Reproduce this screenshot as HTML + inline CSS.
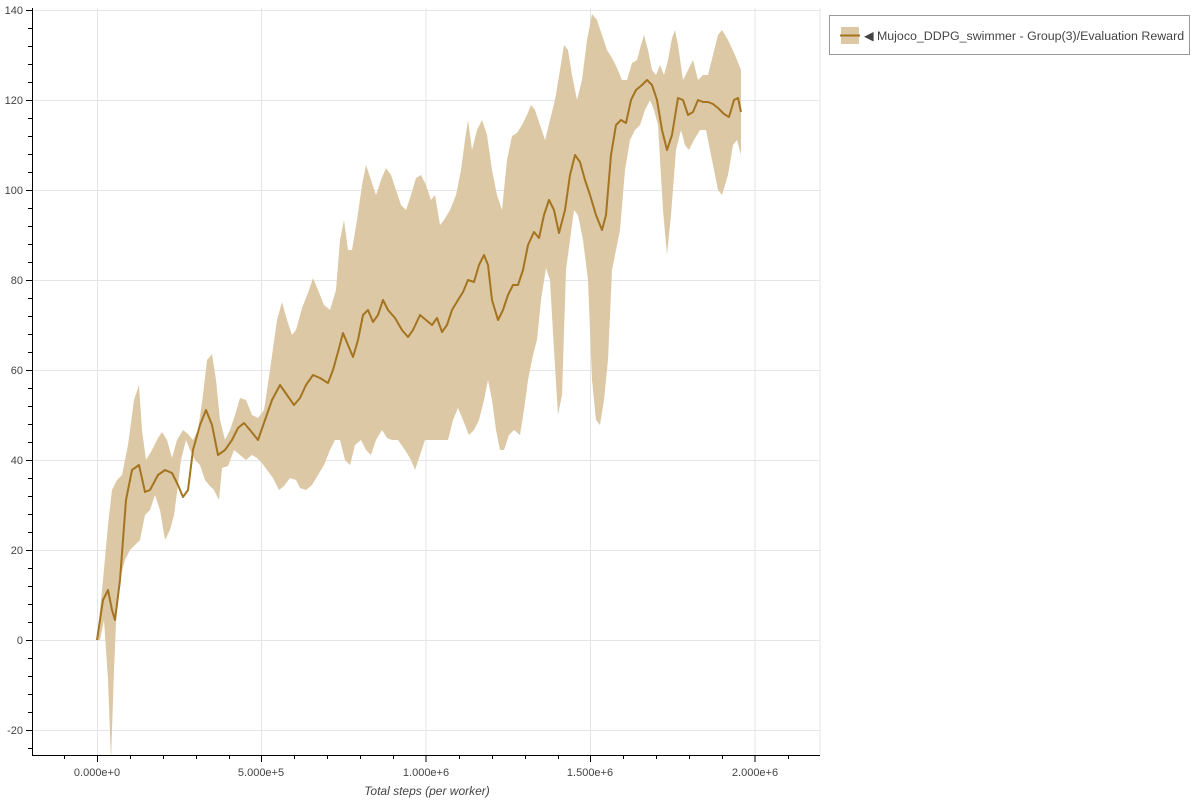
<!DOCTYPE html>
<html><head><meta charset="utf-8"><style>
body{margin:0;background:#fff;font-family:"Liberation Sans",sans-serif;}
</style></head><body>
<svg width="1200" height="800" xmlns="http://www.w3.org/2000/svg" font-family="Liberation Sans, sans-serif">
<defs><clipPath id="c"><rect x="33" y="8" width="787" height="747"/></clipPath></defs>
<g stroke="#e5e5e5" stroke-width="1">
<line x1="97.5" y1="8" x2="97.5" y2="755"/><line x1="261.5" y1="8" x2="261.5" y2="755"/><line x1="426" y1="8" x2="426" y2="755"/><line x1="590.5" y1="8" x2="590.5" y2="755"/><line x1="755" y1="8" x2="755" y2="755"/>
<line x1="33" y1="730.5" x2="820" y2="730.5"/><line x1="33" y1="640.5" x2="820" y2="640.5"/><line x1="33" y1="550.5" x2="820" y2="550.5"/><line x1="33" y1="460.5" x2="820" y2="460.5"/><line x1="33" y1="370.5" x2="820" y2="370.5"/><line x1="33" y1="280.5" x2="820" y2="280.5"/><line x1="33" y1="190.5" x2="820" y2="190.5"/><line x1="33" y1="100.5" x2="820" y2="100.5"/><line x1="33" y1="10.5" x2="820" y2="10.5"/>
<line x1="820" y1="8" x2="820" y2="755"/>
</g>
<g clip-path="url(#c)">
<polygon fill="#dcc8a4" points="97,640 103,580 108,525 112,490 117,480 122,475 128,445 134,400 139,385 142,430 146,460 152,450 158,438 162,432 167,440 172,458 177,440 183,430 188,434 193,440 198,430 203,395 207,360 212,354 216,380 220,420 225,440 230,430 235,415 240,398 246,400 252,415 258,418 264,410 270,370 277,320 282,302 287,320 292,335 296,330 302,308 308,293 313,278 318,290 324,305 330,310 336,290 340,240 344,220 348,250 352,250 357,220 362,185 366,165 371,180 376,195 381,180 386,168 391,175 396,190 401,205 406,210 411,195 416,178 421,175 426,185 431,200 435,195 440,225 444,220 450,210 456,195 461,170 465,140 468,120 472,150 477,130 482,120 487,135 492,170 497,195 502,210 507,160 512,136 517,133 522,125 527,115 531,105 535,110 540,125 545,140 550,120 555,100 560,70 564,45 568,50 572,75 577,100 582,80 587,40 592,14 597,20 602,35 607,50 612,58 617,68 622,80 627,80 632,63 637,60 641,45 644,35 648,50 652,70 656,75 660,65 664,75 668,60 672,38 675,30 678,45 683,80 688,70 693,60 698,80 703,75 708,75 713,55 718,35 722,30 728,40 735,55 741,70 741,155 737,140 733,145 728,175 722,195 718,190 712,160 706,130 700,130 694,140 689,150 685,145 681,130 676,150 671,215 667,255 663,210 658,125 654,110 650,100 645,110 640,125 635,130 630,140 625,170 620,230 616,250 612,270 608,360 604,400 600,425 596,420 592,380 588,280 583,240 578,215 574,210 570,240 566,270 562,395 558,415 554,350 550,280 546,268 541,300 537,340 533,355 528,380 524,410 520,435 514,430 509,435 504,450 500,450 496,430 492,400 488,380 484,400 479,420 474,430 469,435 463,420 458,408 453,420 448,440 443,440 437,440 430,440 425,440 420,455 415,470 411,460 405,450 398,440 392,440 387,438 382,430 376,440 371,455 366,450 361,440 355,445 350,465 345,460 340,440 335,440 330,450 324,465 318,475 312,485 306,490 300,488 296,480 290,478 284,486 279,490 273,478 267,470 262,463 257,458 252,455 246,460 240,455 234,450 228,466 222,468 219,500 214,490 209,485 205,480 200,465 195,460 190,450 186,440 181,460 178,485 174,515 170,530 165,540 160,510 155,495 150,510 145,515 140,540 135,545 130,550 125,560 121,575 117,600 114,670 111,760 108,680 104,620 100,640"/>
<polyline fill="none" stroke="#a47420" stroke-width="2" stroke-linejoin="round" points="97,640 103,600 108,590 112,610 115,620 120,580 126,500 132,470 139,465 145,492 150,490 158,475 165,470 172,473 178,485 183,497 188,490 193,450 200,425 206,410 212,425 218,455 225,450 232,440 238,428 244,423 250,430 258,440 265,420 272,400 280,385 287,395 294,405 300,398 306,385 313,375 320,378 328,383 333,370 338,352 343,333 348,345 353,357 358,340 363,315 368,310 373,322 378,315 383,300 388,310 395,318 402,330 408,337 413,330 420,315 426,320 432,325 437,318 442,332 447,325 452,310 458,300 463,292 468,280 474,282 479,265 484,255 488,265 492,300 498,320 503,310 508,295 513,285 518,285 523,270 528,245 534,232 539,238 544,215 549,200 554,210 559,233 565,210 570,175 575,155 580,162 585,180 590,195 596,215 602,230 606,215 611,155 616,125 621,120 626,123 631,100 636,90 642,85 647,80 652,85 657,100 662,130 667,150 672,135 678,98 683,100 688,115 693,112 698,100 703,102 708,102 713,104 718,108 724,114 729,117 734,100 738,98 741,112"/>
</g>
<g stroke="#000" stroke-width="1">
<line x1="32.5" y1="8" x2="32.5" y2="755.5"/><line x1="32" y1="755.5" x2="820" y2="755.5"/>
<line x1="97.5" y1="755" x2="97.5" y2="762"/><line x1="261.5" y1="755" x2="261.5" y2="762"/><line x1="426" y1="755" x2="426" y2="762"/><line x1="590.5" y1="755" x2="590.5" y2="762"/><line x1="755" y1="755" x2="755" y2="762"/>
<path d="M64.5 755v4M130.5 755v4M163.5 755v4M196.5 755v4M229.5 755v4M294.5 755v4M327.5 755v4M360.5 755v4M393.5 755v4M459.5 755v4M492.5 755v4M525.5 755v4M558.5 755v4M623.5 755v4M656.5 755v4M689.5 755v4M722.5 755v4M788.5 755v4"/>
<path d="M26 730.5h6M26 640.5h6M26 550.5h6M26 460.5h6M26 370.5h6M26 280.5h6M26 190.5h6M26 100.5h6M26 10.5h6"/>
<path d="M28 748.5h4M28 712.5h4M28 694.5h4M28 676.5h4M28 658.5h4M28 622.5h4M28 604.5h4M28 586.5h4M28 568.5h4M28 532.5h4M28 514.5h4M28 496.5h4M28 478.5h4M28 442.5h4M28 424.5h4M28 406.5h4M28 388.5h4M28 352.5h4M28 334.5h4M28 316.5h4M28 298.5h4M28 262.5h4M28 244.5h4M28 226.5h4M28 208.5h4M28 172.5h4M28 154.5h4M28 136.5h4M28 118.5h4M28 82.5h4M28 64.5h4M28 46.5h4M28 28.5h4"/>
</g>
<g font-size="11" fill="#444" text-anchor="end">
<text x="23" y="734">-20</text><text x="23" y="644">0</text><text x="23" y="554">20</text><text x="23" y="464">40</text><text x="23" y="374">60</text><text x="23" y="284">80</text><text x="23" y="194">100</text><text x="23" y="104">120</text><text x="23" y="14">140</text>
</g>
<g font-size="11" fill="#444" text-anchor="middle">
<text x="97" y="776">0.000e+0</text><text x="261" y="776">5.000e+5</text><text x="426" y="776">1.000e+6</text><text x="590" y="776">1.500e+6</text><text x="755" y="776">2.000e+6</text>
</g>
<text x="427" y="795" font-size="12" font-style="italic" fill="#444" text-anchor="middle">Total steps (per worker)</text>
<rect x="829.5" y="15.5" width="360" height="39" fill="#fff" stroke="#999"/>
<rect x="841" y="27" width="18" height="17" fill="#dcc8a4"/>
<line x1="840" y1="35.5" x2="860" y2="35.5" stroke="#a47420" stroke-width="2"/>
<text x="864" y="40" font-size="12.4" fill="#444">◀ Mujoco_DDPG_swimmer - Group(3)/Evaluation Reward</text>
</svg>
</body></html>
